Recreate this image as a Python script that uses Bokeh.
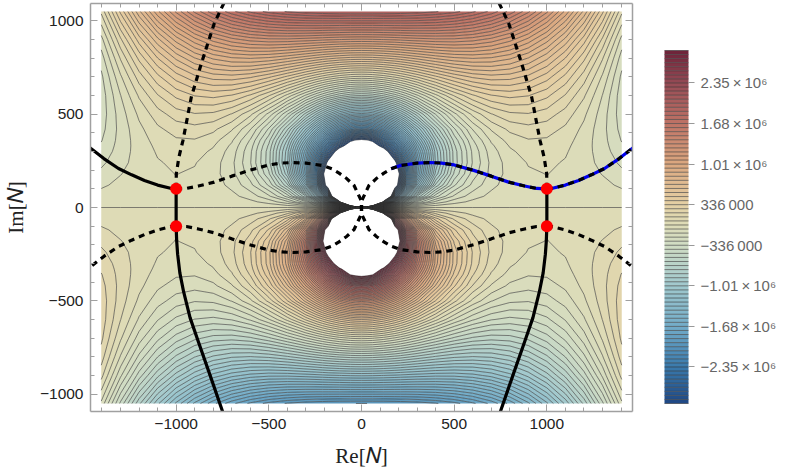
# Field values are hand estimates (thousands) on a coarse grid, chosen to follow the
# reference's contour positions and colours, using a pole-plus-cubic shape as a guide.
# They are not exact readings. Other quadrants reuse them by the picture's symmetry.
import numpy as np
from bokeh.embed import file_html
from bokeh.resources import INLINE
from bokeh.plotting import figure
from bokeh.models import Range1d, LinearAxis, FixedTicker, CustomLabelingPolicy

grid_x = [0,30,60,120,180,210,240,300,400,500,600,700,800,900,1000,1100,1200,1300,1404]
grid_y = [0,30,60,120,180,240,300,330,360,420,500,600,700,800,900,1050]
row_0    = [0]*19
row_30   = [-46000,-23000,-9150,-2640,-1170,-845,-632,-380,-184,-95,-49,-24,-10,-4,-2,-3,-7,-13,-20]
row_60   = [-22900,-18300,-11400,-4460,-2150,-1585,-1200,-734,-360,-187,-97,-47,-20,-7,-3,-6,-13,-25,-40]
row_120  = [-11200,-10500,-8910,-5450,-3230,-2650,-2000,-1284,-657,-347,-180,-86,-35,-10,-3,-9,-25,-49,-79]
row_180  = [-7210,-7000,-6440,-4850,-3370,-2850,-2300,-1574,-850,-458,-238,-111,-41,-8,1,-10,-34,-70,-116]
row_240  = [-5120,-5030,-4780,-3970,-3050,-2650,-2250,-1632,-930,-512,-263,-116,-34,4,11,-5,-39,-88,-150]
row_300  = [-3800,-3760,-3620,-3170,-2590,-2300,-2020,-1529,-911,-507,-253,-98,-12,27,30,7,-38,-101,-180]
row_330  = [-3400,-3350,-3160,-2810,-2350,-2106,-1870,-1440,-871,-484,-235,-81,5,43,43,15,-36,-106,-192]
row_360  = [-3020,-2980,-2900,-2480,-2110,-1906,-1706,-1329,-814,-449,-208,-57,27,62,58,26,-32,-109,-206]
row_420  = [-2140,-2120,-2070,-1900,-1650,-1504,-1360,-1076,-661,-347,-130,8,84,110,97,53,-18,-111,-225]
row_500  = [-1374,-1360,-1337,-1232,-1078,-988,-894,-702,-400,-157,18,130,186,196,167,105,14,-101,-240]
row_600  = [-603,-598,-583,-526,-439,-387,-332,-215,-22,141,259,331,356,339,284,196,77,-69,-241]
row_700  = [51,55,62,95,144,174,205,273,387,484,550,578,567,519,434,316,167,-11,-218]
row_800  = [643,645,649,666,691,706,724,759,817,860,878,865,818,736,618,469,286,74,-169]
row_900  = [1201,1202,1204,1211,1220,1227,1233,1245,1260,1260,1237,1186,1103,986,836,653,436,188,-92]
row_1050 = [2016,2016,2015,2013,2008,2003,2000,1988,1956,1906,1830,1727,1593,1427,1225,991,721,419,82]
rows = [row_0,row_30,row_60,row_120,row_180,row_240,row_300,row_330,row_360,row_420,row_500,row_600,row_700,row_800,row_900,row_1050]

level_step = 67200
level_lo, level_hi = -44, 43
cbar_ticks = [-2352000,-1680000,-1008000,-336000,336000,1008000,1680000,2352000]
cbar_labels = ["\u22122.35\u2009\u00d7\u200910\u2076","\u22121.68\u2009\u00d7\u200910\u2076","\u22121.01\u2009\u00d7\u200910\u2076","\u2212336\u2009000",
               "336\u2009000","1.01\u2009\u00d7\u200910\u2076","1.68\u2009\u00d7\u200910\u2076","2.35\u2009\u00d7\u200910\u2076"]
axis_ticks = [-1000,-500,0,500,1000]
axis_minor = [-1400,-1300,-1200,-1100,-900,-800,-700,-600,-400,-300,-200,-100,100,200,300,400,600,700,800,900,1100,1200,1300,1400]
x_title = "Re[\U0001D441]"
y_title = "Im[\U0001D441]"

# curves
cross_x = [-1000,-945,-880,-794,-700,-605,-500,-433,-370,-300,-209,-160,-121,-80,-40,-2,2,40,80,121,160,209,300,370,433,500,605,700,794,880,945,1000]
cross_y = [100,102,115,136,168,199,228,238,241,238,225,207,184,155,118,38,-38,-118,-155,-184,-207,-225,-238,-241,-238,-228,-199,-168,-136,-115,-102,-100]
branch_x = [-1000,-1025,-1100,-1171,-1240,-1311,-1390,-1467]
branch_y = [100,102,120,145,175,209,262,322]
down_x = [-1000,-1000,-997,-992,-980,-960,-925,-882,-820,-747]
down_y = [100,-100,-180,-250,-350,-450,-590,-714,-890,-1100]
up_x = [-1000,-999,-985,-963,-918,-864,-794,-740]
up_y = [100,182,270,360,592,772,987,1100]
saddle_x = [-1000,-1000,1000,1000]
saddle_y = [100,-100,100,-100]
blue_start = 132

xs = np.array(grid_x, float); ys = np.array(grid_y, float)
q = np.array(rows, float) * 1000
full_x = np.concatenate([-xs[:0:-1], xs]); full_y = np.concatenate([-ys[:0:-1], ys])
upper = np.hstack([q[:, :0:-1], q])
z = np.vstack([-upper[:0:-1], upper])

levels = [k*level_step for k in range(level_lo, level_hi+1)]
anchors_v = [-2.96e6,-2.35e6,-1.68e6,-1.01e6,-0.336e6,0,0.336e6,1.01e6,1.68e6,2.35e6,2.9e6]
anchors_c = [(30,70,130),(58,122,172),(115,172,200),(160,200,205),(208,220,196),(221,220,184),(228,208,165),(219,168,128),(190,115,102),(150,75,85),(108,34,56)]
mids = [(levels[i]+levels[i+1])/2 for i in range(len(levels)-1)]
pal = ["#%02x%02x%02x" % tuple(int(round(np.interp(m, anchors_v, [c[j] for c in anchors_c]))) for j in range(3)) for m in mids]

p = figure(width=781, height=475, output_backend="svg", toolbar_location=None,
           x_range=Range1d(-1462,1462), y_range=Range1d(-1093,1093),
           min_border_left=89, min_border_right=149, min_border_top=3, min_border_bottom=64,
           x_axis_location="below", y_axis_location="left", background_fill_color="white")
p.grid.visible = False
p.outline_line_color = None

cr = p.contour(full_x, full_y, z, levels, fill_color=pal, line_color="#333333", line_alpha=0.6, line_width=1)

GRAY = "#a0a0a0"
def style(ax, labels):
    ax.ticker = FixedTicker(ticks=axis_ticks, minor_ticks=axis_minor)
    ax.axis_line_color = GRAY; ax.axis_line_width = 1.5
    ax.major_tick_line_color = GRAY; ax.minor_tick_line_color = GRAY
    ax.major_tick_in = 7; ax.major_tick_out = 0
    ax.minor_tick_in = 4; ax.minor_tick_out = 0
    if labels:
        ax.major_label_overrides = {t: str(t).replace("-", "\u2212") for t in axis_ticks}
        ax.major_label_text_font = "Liberation Sans"
        ax.major_label_text_font_size = "15.5px"
        ax.major_label_text_color = "#222222"
        ax.major_label_standoff = 7
        ax.axis_label_text_font = "Liberation Serif"
        ax.axis_label_text_font_style = "normal"
        ax.axis_label_text_font_size = "21px"
        ax.axis_label_text_color = "#222222"
    else:
        ax.major_label_text_font_size = "0px"
        ax.major_label_standoff = 0
        ax.major_label_policy = CustomLabelingPolicy(code="for (const i of [...indices]) indices.unset(i); return indices")
style(p.xaxis[0], True); style(p.yaxis[0], True)
p.xaxis[0].axis_label = x_title; p.xaxis[0].axis_label_standoff = 12
p.yaxis[0].axis_label = y_title; p.yaxis[0].axis_label_standoff = 9
top = LinearAxis(); style(top, False); p.add_layout(top, "above")
right = LinearAxis(); style(right, False); p.add_layout(right, "right")

cx, cy = np.array(cross_x), np.array(cross_y)
bx, by = np.array(branch_x), np.array(branch_y)
ux, uy = np.array(up_x), np.array(up_y)
dx, dy = np.array(down_x), np.array(down_y)
DASH = "6 5"
W = 3.2
mask = -cx >= blue_start
blue_x = np.concatenate([(-cx)[mask][::-1], -bx]); blue_y = np.concatenate([cy[mask][::-1], by])
p.line(blue_x, blue_y, line_color="#0000ee", line_width=W)
p.line(cx, cy, line_color="black", line_width=W, line_dash=DASH)
p.line(-cx, cy, line_color="black", line_width=W, line_dash=DASH)
p.line(bx, by, line_color="black", line_width=W)
p.line(-bx, by, line_color="black", line_width=W, line_dash=DASH)
p.line(bx, -by, line_color="black", line_width=W, line_dash=DASH)
p.line(-bx, -by, line_color="black", line_width=W, line_dash=DASH)
p.line(dx, dy, line_color="black", line_width=W)
p.line(-dx, dy, line_color="black", line_width=W)
p.line(ux, uy, line_color="black", line_width=W, line_dash=DASH)
p.line(-ux, uy, line_color="black", line_width=W, line_dash=DASH)
p.scatter(saddle_x, saddle_y, size=12, color="#ff0000", line_color=None)

cb = cr.construct_color_bar(width=24, height=353)
cb.ticker = FixedTicker(ticks=cbar_ticks)
cb.major_label_overrides = dict(zip(cbar_ticks, cbar_labels))
cb.major_label_text_font = "Liberation Sans"
cb.major_label_text_font_size = "15px"
cb.major_label_text_color = "#666666"
cb.major_tick_in = 0; cb.major_tick_out = 6
cb.major_tick_line_color = "#999999"
cb.minor_tick_line_color = None
cb.bar_line_color = None
cb.label_standoff = 6
cb.padding = 0
cb.margin = 0
cb.location = (32, 8)
p.add_layout(cb, "right")

open("out.html", "w").write(file_html(p, INLINE))
